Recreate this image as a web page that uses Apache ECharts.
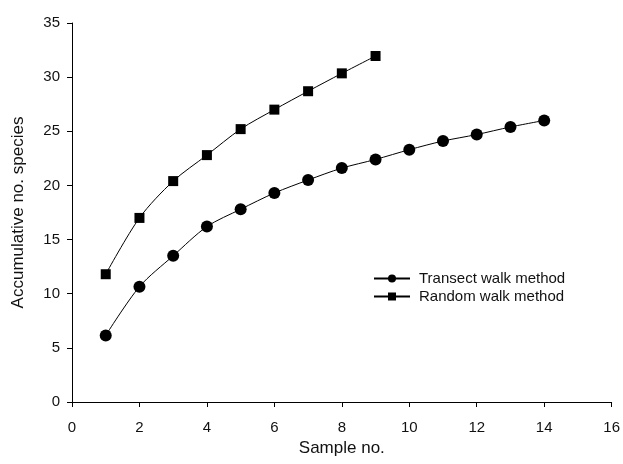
<!DOCTYPE html>
<html>
<head>
<meta charset="utf-8">
<script src="https://cdn.jsdelivr.net/npm/echarts@6/dist/echarts.min.js"></script>
<style>
  html, body { margin: 0; padding: 0; background: #fff; }
  #chart { width: 623px; height: 464px; }
</style>
</head>
<body>
<div id="chart"></div>
<script>
// sample numbers
const transectX = [1, 2, 3, 4, 5, 6, 7, 8, 9, 10, 11, 12, 13, 14]
const transectY = [6.15, 10.65, 13.5, 16.2, 17.8, 19.3, 20.5, 21.6, 22.4, 23.3, 24.1, 24.7, 25.4, 26.0]
const randomX = [1, 2, 3, 4, 5, 6, 7, 8, 9]
const randomY = [11.8, 17.0, 20.4, 22.8, 25.2, 27.0, 28.7, 30.35, 31.95]

const pairs = (xs, ys) => xs.map((x, i) => [x, ys[i]])

const font = 'Liberation Sans, Arial, sans-serif'
const ink = '#111'

const chart = echarts.init(document.getElementById('chart'))
chart.setOption({
  animation: false,
  grid: { left: 72, right: 8, top: 23, bottom: 62 },
  legend: {
    orient: 'vertical',
    left: 373,
    top: 271,
    padding: 0,
    itemWidth: 36,
    itemHeight: 10,
    itemGap: 3,
    textStyle: { fontFamily: font, fontSize: 15, color: ink, padding: [0, 0, 0, 4] },
    data: ['Transect walk method', 'Random walk method']
  },
  xAxis: {
    type: 'value',
    min: 0, max: 16, interval: 2,
    name: 'Sample no.',
    nameLocation: 'middle',
    nameGap: 36,
    nameTextStyle: { fontFamily: font, fontSize: 17, color: ink },
    axisLine: { lineStyle: { color: '#000', width: 1 } },
    axisTick: { inside: false, length: 5, lineStyle: { color: '#000' } },
    axisLabel: { fontFamily: font, fontSize: 15, color: ink, margin: 18 },
    splitLine: { show: false }
  },
  yAxis: {
    type: 'value',
    min: 0, max: 35, interval: 5,
    name: 'Accumulative no. species',
    nameLocation: 'middle',
    nameGap: 45,
    nameTextStyle: { fontFamily: font, fontSize: 17, color: ink },
    axisLine: { show: true, lineStyle: { color: '#000', width: 1 } },
    axisTick: { show: true, inside: false, length: 5, lineStyle: { color: '#000' } },
    axisLabel: { fontFamily: font, fontSize: 15, color: ink, margin: 12 },
    splitLine: { show: false }
  },
  series: [
    {
      name: 'Transect walk method',
      type: 'line',
      data: pairs(transectX, transectY),
      smooth: 0.3,
      symbol: 'circle',
      symbolSize: 12,
      itemStyle: { color: '#000' },
      lineStyle: { color: '#000', width: 1 }
    },
    {
      name: 'Random walk method',
      type: 'line',
      data: pairs(randomX, randomY),
      smooth: 0.3,
      symbol: 'rect',
      symbolSize: 10,
      itemStyle: { color: '#000' },
      lineStyle: { color: '#000', width: 1 }
    }
  ]
})
</script>
</body>
</html>
